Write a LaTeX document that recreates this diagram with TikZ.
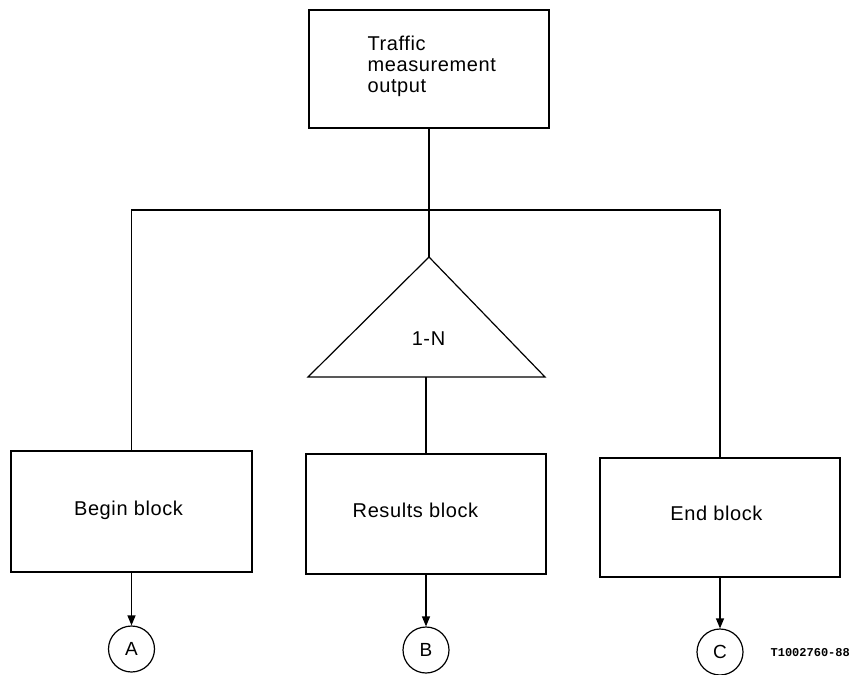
\documentclass[tikz,border=0pt]{standalone}
\usepackage{fontspec}
\setmainfont{Liberation Sans}[LetterSpace=3]
\newfontfamily\labelfont{Liberation Mono}
\usetikzlibrary{arrows.meta}
\begin{document}
\begin{tikzpicture}[x=1pt,y=-1pt,line width=1.2pt,
  blockbox/.style={draw,minimum width=241pt,minimum height=121pt,inner sep=0pt},
  conn/.style={circle,draw,minimum size=46pt,inner sep=0pt,font=\fontsize{19}{21}\selectfont},
  arr/.style={-{Triangle[length=10pt,width=8pt]}},
  txt/.style={font=\fontsize{20}{21}\selectfont,inner sep=0pt}]
\useasboundingbox (0,0) rectangle (853,674);
% top box
\node[draw,minimum width=240pt,minimum height=118pt,inner sep=0pt] (top) at (429,69) {};
\node[txt,align=left,anchor=north west] (toptxt) at (367,35.5) {Traffic\\measurement\\output};
% bar junction
\coordinate (bar) at (429,210);
% triangle
\coordinate (apex) at (429,257);
\coordinate (bl) at (308,377);
\coordinate (br) at (545,377);
\coordinate (tribase) at (426,377);
\draw (apex) -- (bl) -- (br) -- cycle;
\node[txt,anchor=base] (n1N) at (428.5,345) {1-N};
% blocks
\node[blockbox] (begin) at (131.5,511.5) {};
\node[txt,anchor=base] (begintxt) at (128.5,515) {Begin block};
\node[blockbox,minimum width=240pt,minimum height=120pt] (results) at (426,514) {};
\node[txt,anchor=base] (resultstxt) at (415.5,517) {Results block};
\node[blockbox,minimum width=240pt,minimum height=119pt] (endb) at (720,517.5) {};
\node[txt,anchor=base] (endtxt) at (716.5,520) {End block};
% connectors circles
\node[conn] (A) at (131.5,649) {A};
\node[conn] (B) at (426,650) {B};
\node[conn] (C) at (720,652) {C};
% lines
\draw (top.south) -- (apex);
\draw (begin.north) |- (bar) -| (endb.north);
\draw (tribase) -- (results.north);
\draw[arr] (begin.south) -- (A.north);
\draw[arr] (results.south) -- (B.north);
\draw[arr] (endb.south) -- (C.north);
% figure id
\node[font=\labelfont\bfseries\fontsize{12}{14}\selectfont,anchor=west,inner sep=0pt] (fid) at (770,653) {T1002760-88};
\end{tikzpicture}
\end{document}
